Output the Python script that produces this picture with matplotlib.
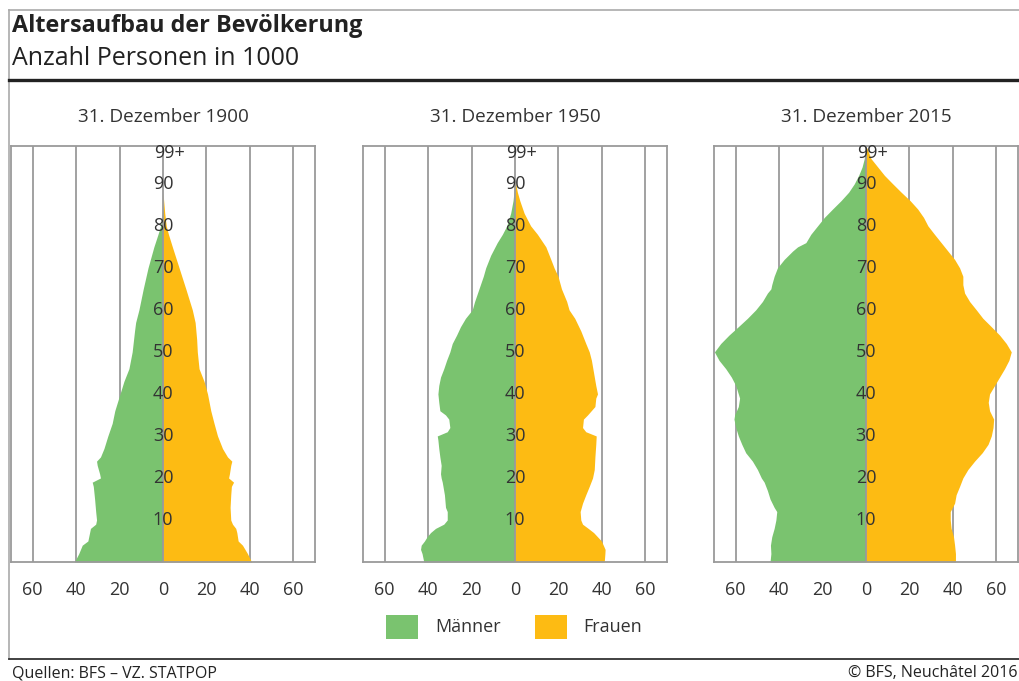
import matplotlib
matplotlib.use("Agg")
import matplotlib.pyplot as plt
from matplotlib.patches import Rectangle
from matplotlib.lines import Line2D

plt.rcParams['font.family'] = ['Open Sans', 'DejaVu Sans']

# ---------------- data (Anzahl Personen in 1000) ----------------
years = ["31. Dezember 1900", "31. Dezember 1950", "31. Dezember 2015"]

ages_m_1900 = [0, 2, 4, 5, 7, 8, 9, 10, 12, 15, 18, 19, 20, 21, 23, 24, 25, 27, 30, 33, 36, 40,
               43, 46, 50, 55, 57, 60, 65, 70, 75, 78, 80, 83, 85, 99]
men_1900 = [40.8, 38.8, 37.2, 34.6, 33.8, 33.4, 31.0, 30.6, 31.0, 31.5, 32.1, 32.6, 28.8, 29.2,
            30.3, 30.6, 28.8, 27.2, 25.4, 23.4, 22.2, 19.8, 18.0, 15.7, 14.2, 13.1, 12.6, 11.1,
            9.1, 6.9, 4.2, 2.3, 1.1, 0.3, 0.0, 0.0]
ages_w_1900 = [0, 2, 4, 5, 7, 8, 9, 10, 13, 16, 18, 19, 20, 21, 23, 24, 25, 27, 30, 33, 36, 40,
               43, 46, 50, 53, 57, 60, 65, 70, 75, 78, 80, 83, 86, 88, 99]
women_1900 = [40.8, 38.9, 36.6, 34.6, 34.0, 33.5, 32.0, 31.2, 30.9, 31.2, 31.5, 32.5, 30.2, 30.6,
              31.2, 31.7, 29.7, 27.4, 25.1, 23.5, 22.0, 20.5, 18.9, 16.6, 15.8, 15.5, 14.8, 13.5,
              10.5, 7.4, 4.3, 2.5, 1.5, 0.8, 0.3, 0.0, 0.0]

ages_m_1950 = [0, 2, 3, 4, 5, 6, 7, 8, 9, 10, 12, 13, 16, 19, 20, 21, 23, 25, 27, 29, 30, 31, 32,
               34, 35, 36, 38, 40, 42, 44, 46, 48, 50, 52, 54, 56, 58, 60, 62, 65, 68, 70, 73, 76,
               78, 80, 83, 86, 88, 90, 99]
men_1950 = [42.0, 42.8, 43.5, 43.2, 41.7, 40.5, 38.9, 36.6, 32.8, 31.2, 31.2, 32.0, 32.5, 33.5,
            34.0, 34.3, 34.0, 34.6, 35.1, 35.5, 35.8, 31.2, 30.0, 30.5, 32.0, 34.6, 35.1, 35.5,
            35.1, 34.3, 32.8, 31.5, 30.0, 28.9, 26.9, 25.1, 22.8, 19.7, 18.6, 16.6, 14.6, 13.5,
            11.2, 8.2, 5.8, 3.8, 2.0, 0.9, 0.5, 0.0, 0.0]
ages_w_1950 = [0, 2, 3, 5, 6, 7, 8, 9, 10, 12, 14, 16, 18, 20, 22, 25, 28, 30, 31, 32, 34, 35, 37,
               39, 40, 42, 45, 48, 50, 52, 55, 58, 60, 62, 65, 68, 70, 72, 75, 78, 80, 83, 86, 88,
               90, 91, 99]
women_1950 = [41.1, 41.4, 41.5, 39.8, 38.0, 36.2, 33.7, 31.1, 30.3, 30.0, 31.1, 32.6, 34.2, 35.7,
              36.5, 36.8, 37.2, 37.4, 32.6, 31.1, 31.5, 33.4, 36.8, 37.2, 38.0, 37.2, 36.2, 35.2,
              34.2, 32.6, 30.3, 27.5, 24.9, 23.8, 21.4, 19.8, 18.0, 16.5, 14.2, 10.3, 7.2, 4.2,
              2.2, 1.1, 0.3, 0.0, 0.0]

ages_m_2015 = [0, 2, 4, 6, 8, 10, 12, 13, 15, 17, 19, 20, 22, 24, 26, 28, 30, 32, 34, 35, 37, 39,
               40, 42, 44, 46, 48, 50, 52, 54, 56, 58, 60, 62, 64, 65, 66, 68, 70, 72, 74, 75, 76,
               78, 80, 82, 84, 86, 88, 90, 92, 94, 96, 98, 99]
men_2015 = [44.2, 43.8, 44.0, 43.4, 42.3, 41.5, 41.1, 42.3, 44.2, 45.4, 46.9, 48.2, 50.0, 52.3,
            55.4, 57.2, 58.8, 60.0, 60.8, 60.5, 58.8, 58.2, 58.8, 60.0, 62.0, 64.6, 67.7, 69.8,
            66.9, 63.1, 58.8, 54.6, 50.8, 47.7, 45.4, 43.8, 43.4, 42.3, 40.8, 37.7, 33.8, 31.5,
            27.7, 25.4, 22.3, 19.2, 15.4, 11.5, 8.0, 5.4, 3.4, 1.8, 0.8, 0.2, 0.0]
ages_w_2015 = [0, 2, 4, 6, 8, 10, 12, 14, 16, 18, 20, 22, 24, 26, 28, 30, 32, 34, 36, 38, 40, 42,
               44, 46, 48, 50, 52, 54, 56, 58, 60, 62, 64, 66, 68, 70, 72, 74, 76, 78, 80, 82, 84,
               86, 88, 90, 92, 94, 96, 98, 99]
women_2015 = [41.2, 41.2, 40.8, 40.3, 39.2, 38.8, 38.8, 40.8, 41.5, 43.1, 44.6, 46.9, 50.0, 53.5,
              56.2, 57.7, 58.5, 58.8, 56.9, 56.3, 56.9, 59.2, 61.5, 63.8, 65.8, 66.9, 64.6, 61.5,
              57.7, 53.8, 50.8, 47.7, 45.4, 44.6, 44.6, 43.1, 40.8, 37.7, 34.6, 31.5, 28.5, 26.5,
              23.8, 20.3, 16.2, 12.3, 8.5, 5.4, 2.3, 0.8, 0.0]

panels = [
    (ages_m_1900, men_1900, ages_w_1900, women_1900),
    (ages_m_1950, men_1950, ages_w_1950, women_1950),
    (ages_m_2015, men_2015, ages_w_2015, women_2015),
]

x_ticks = [-60, -40, -20, 0, 20, 40, 60]
x_ticklabels = ["60", "40", "20", "0", "20", "40", "60"]
age_ticks = [10, 20, 30, 40, 50, 60, 70, 80, 90]
legend_labels = ["Männer", "Frauen"]

# ---------------- style ----------------
GREEN = "#7AC36F"
ORANGE = "#FDBB13"
GRID = "#9a9a9a"
TXT = "#333333"

W, H = 1019, 681
fig = plt.figure(figsize=(W / 100, H / 100), dpi=100)

def fx(px):
    return px / W

def fy(py):
    return 1 - py / H

# frame lines
fig.add_artist(Line2D([fx(9), fx(1019)], [fy(10), fy(10)], color="#aaaaaa", lw=1.2))
fig.add_artist(Line2D([fx(9), fx(9)], [fy(10), fy(659)], color="#aaaaaa", lw=1.2))
fig.add_artist(Line2D([fx(9), fx(1019)], [fy(80), fy(80)], color="#222222", lw=2.4))
fig.add_artist(Line2D([fx(9), fx(1019)], [fy(659), fy(659)], color="#333333", lw=1.3))

fig.text(fx(12), fy(32), "Altersaufbau der Bevölkerung", fontsize=16.8, fontweight="bold",
         color="#222222", va="baseline", ha="left")
fig.text(fx(12), fy(65), "Anzahl Personen in 1000", fontsize=18, color="#222222",
         va="baseline", ha="left")

fig.text(fx(12), fy(673), "Quellen: BFS – VZ. STATPOP", fontsize=11.5, color="#222222",
         va="center", ha="left")
fig.text(fx(1017), fy(673), "© BFS, Neuchâtel 2016", fontsize=11.5, color="#222222",
         va="center", ha="right")

ax_left_px = [11, 363, 714]
ax_w_px = 304
ax_top, ax_bot = 146, 562

for i, (am, m, aw, w) in enumerate(panels):
    ax = fig.add_axes([fx(ax_left_px[i]), fy(ax_bot), fx(ax_w_px), (ax_bot - ax_top) / H])
    ax.set_xlim(-70, 70)
    ax.set_ylim(0, 99)
    for xv in x_ticks:
        if xv != 0:
            ax.axvline(xv, color=GRID, lw=1.3, zorder=1)
    ax.fill_betweenx(am, [-v for v in m], 0, color=GREEN, lw=0, zorder=2)
    ax.fill_betweenx(aw, 0, w, color=ORANGE, lw=0, zorder=2)
    ax.axvline(0, color=GRID, lw=1.3, zorder=3)
    for a in age_ticks:
        ax.text(0, a, str(a), ha="center", va="center", fontsize=13, color=TXT, zorder=4)
    ax.text(2.8, 97.4, "99+", ha="center", va="center", fontsize=13, color=TXT, zorder=4)
    ax.set_xticks(x_ticks)
    ax.set_xticklabels(x_ticklabels, fontsize=13, color=TXT)
    ax.set_yticks([])
    ax.tick_params(axis="x", length=0, pad=14)
    for s in ax.spines.values():
        s.set_color(GRID)
        s.set_linewidth(1.3)
    ax.set_title(years[i], fontsize=13.6, color=TXT, pad=17)

# legend
for (x0, col, lab, tx) in [(386, GREEN, legend_labels[0], 435), (535, ORANGE, legend_labels[1], 583)]:
    fig.add_artist(Rectangle((fx(x0), fy(639)), fx(32), 24 / H, facecolor=col, edgecolor="none",
                             transform=fig.transFigure))
    fig.text(fx(tx), fy(627), lab, fontsize=13, color=TXT, va="center", ha="left")

fig.savefig("out.png", dpi=100)
